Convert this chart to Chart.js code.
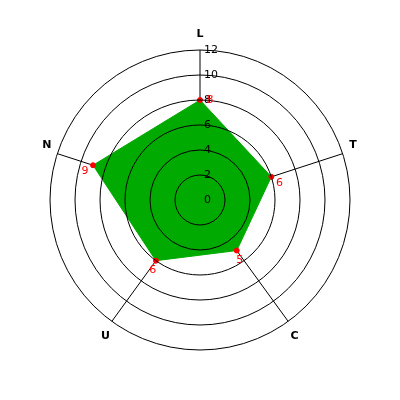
<!DOCTYPE html>
<html>
<head>
<meta charset="UTF-8">
<title>Radar</title>
<script src="https://cdn.jsdelivr.net/npm/chart.js"></script>
<style>
  body { margin: 0; background: #fff; }
</style>
</head>
<body>
<canvas id="radarChart" width="400" height="400"></canvas>
<script>
  const axes = ['L', 'T', 'C', 'U', 'N'];
  const values = [8, 6, 5, 6, 9];
  const tickValues = [0, 2, 4, 6, 8, 10, 12];

  // spokes go under the fill, the rings (grid z=1) go over it
  const spokePlugin = {
    id: 'spokePlugin',
    beforeDatasetsDraw(chart) {
      const scale = chart.scales.r;
      const ctx = chart.ctx;
      ctx.save();
      ctx.strokeStyle = '#000';
      ctx.lineWidth = 1;
      axes.forEach((name, i) => {
        const p = scale.getPointPosition(i, scale.drawingArea);
        ctx.beginPath();
        ctx.moveTo(scale.xCenter, scale.yCenter);
        ctx.lineTo(p.x, p.y);
        ctx.stroke();
      });
      ctx.restore();
    }
  };

  // ticks, axis names and value labels
  const labelPlugin = {
    id: 'labelPlugin',
    afterDraw(chart) {
      const scale = chart.scales.r;
      const ctx = chart.ctx;
      ctx.save();

      ctx.font = '11px "DejaVu Sans"';
      ctx.fillStyle = '#000';
      ctx.textAlign = 'left';
      ctx.textBaseline = 'middle';
      tickValues.forEach(v => {
        const d = scale.getDistanceFromCenterForValue(v);
        ctx.fillText(String(v), scale.xCenter + 4, scale.yCenter - d);
      });

      ctx.font = 'bold 11px "DejaVu Sans"';
      ctx.textAlign = 'center';
      axes.forEach((name, i) => {
        const p = scale.getPointPosition(i, scale.drawingArea + 11);
        const dy = p.y < scale.yCenter ? -5 : 6;
        ctx.fillText(name, p.x, p.y + dy);
      });

      ctx.font = '11px "DejaVu Sans"';
      ctx.fillStyle = '#ff0000';
      const meta = chart.getDatasetMeta(0);
      meta.data.forEach((pt, i) => {
        const a = scale.getIndexAngle(i) / 2;
        ctx.fillText(String(values[i]), pt.x + 10 * Math.cos(a), pt.y + 10 * Math.sin(a));
      });

      ctx.restore();
    }
  };

  new Chart(document.getElementById('radarChart'), {
    type: 'radar',
    data: {
      labels: axes,
      datasets: [{
        data: values,
        fill: true,
        backgroundColor: '#00aa00',
        borderColor: '#00aa00',
        borderWidth: 1,
        pointRadius: 2.5,
        pointBackgroundColor: '#ff0000',
        pointBorderColor: '#ff0000',
        pointBorderWidth: 1
      }]
    },
    options: {
      responsive: false,
      animation: false,
      layout: { padding: 50 },
      plugins: {
        legend: { display: false },
        tooltip: { enabled: false }
      },
      scales: {
        r: {
          min: 0,
          max: 12,
          ticks: { stepSize: 2, display: false },
          grid: { circular: true, color: '#000', lineWidth: 1, z: 1 },
          angleLines: { display: false },
          pointLabels: { display: false }
        }
      }
    },
    plugins: [spokePlugin, labelPlugin]
  });
</script>
</body>
</html>
